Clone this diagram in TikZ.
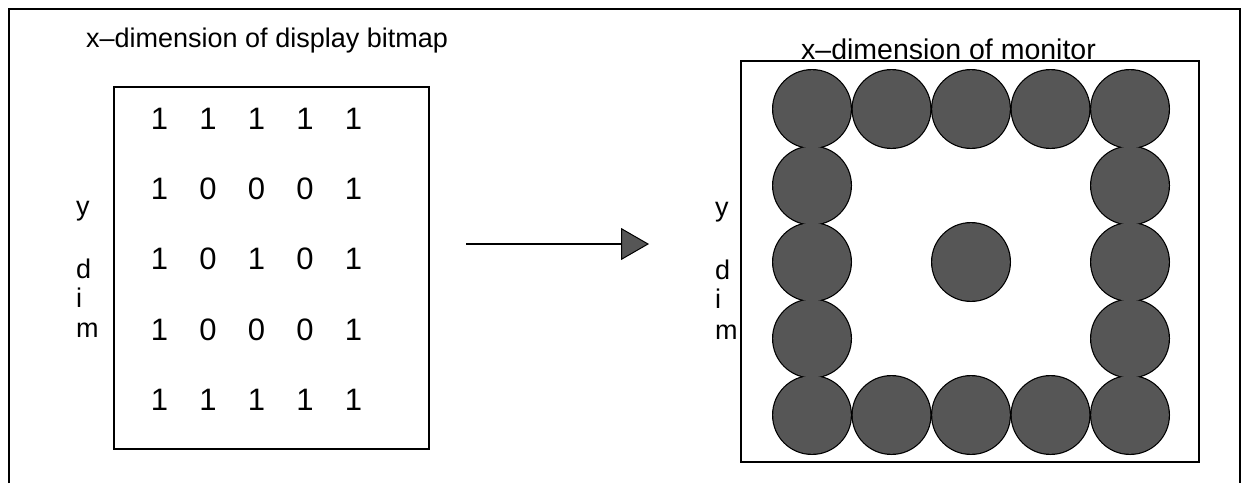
\documentclass[tikz,border=0pt]{standalone}
\usepackage{fontspec}
\setmainfont{Liberation Sans}
\usetikzlibrary{arrows.meta}
\definecolor{dotfill}{RGB}{86,86,86}
\begin{document}
\begin{tikzpicture}[x=1pt,y=-1pt,
  frame/.style={line width=1.6pt},
  box/.style={draw, line width=1.8pt, inner sep=0pt, anchor=north west},
  bit/.style={inner sep=0pt, font=\fontsize{31}{31}\selectfont},
  lbl/.style={inner sep=0pt, anchor=base west, font=\fontsize{27}{27}\selectfont},
  ttl/.style={inner sep=0pt, anchor=base west, font=\fontsize{27}{27}\selectfont},
  pixrim/.style={circle, fill=black, minimum size=80pt, inner sep=0pt},
  pixcore/.style={circle, fill=dotfill, minimum size=77.6pt, inner sep=0pt}]
\useasboundingbox (0,0) rectangle (1246,483);

% open outer frame
\draw[frame] (9,483) -- (9,9) -- (1240,9) -- (1240,483);

% display bitmap
\node[ttl] (bmtitle) at (86,47) {x–dimension of display bitmap};
\node[box, minimum width=315pt, minimum height=362pt] (bitmap) at (113,86) {};
\foreach \row [count=\r from 0] in {{1,1,1,1,1},{1,0,0,0,1},{1,0,1,0,1},{1,0,0,0,1},{1,1,1,1,1}}
  \foreach \b [count=\c from 0] in \row
    \node[bit] (bit-\r-\c) at ({159.5+48.5*\c},{118.5+70.4*\r}) {\b};
\node[lbl] (ly1) at (76,215) {y};
\node[lbl] (ld1) at (76,278) {d};
\node[lbl] (li1) at (76,307) {i};
\node[lbl] (lm1) at (76,337) {m};

% mapping arrow
\coordinate (arrS) at (466,244);
\coordinate (arrE) at (649,244);
\draw[line width=2pt, -{Triangle[length=28pt, width=32pt, fill=dotfill, line width=1pt]}] (arrS) -- (arrE);

% monitor
\node[ttl, font=\fontsize{28.5}{28.5}\selectfont] (mntitle) at (801,59) {x–dimension of monitor};
\node[box, minimum width=458pt, minimum height=401pt] (monitor) at (740,60) {};
\node[lbl] (ly2) at (715,216) {y};
\node[lbl] (ld2) at (715,279) {d};
\node[lbl] (li2) at (715,308) {i};
\node[lbl] (lm2) at (715,339) {m};

% lit pixels: black rims first, grey cores on top so overlaps merge
\foreach \pass/\sty in {rim/pixrim, core/pixcore}{
  \foreach \c in {0,...,4}{
    \node[\sty] (\pass-0-\c) at ({812+79.5*\c},109) {};
    \node[\sty] (\pass-4-\c) at ({812+79.5*\c},415) {};
  }
  \foreach \r in {1,2,3}{
    \node[\sty] (\pass-\r-0) at (812,{109+76.5*\r}) {};
    \node[\sty] (\pass-\r-4) at (1130,{109+76.5*\r}) {};
  }
  \node[\sty] (\pass-2-2) at (971,262) {};
}
\end{tikzpicture}
\end{document}
